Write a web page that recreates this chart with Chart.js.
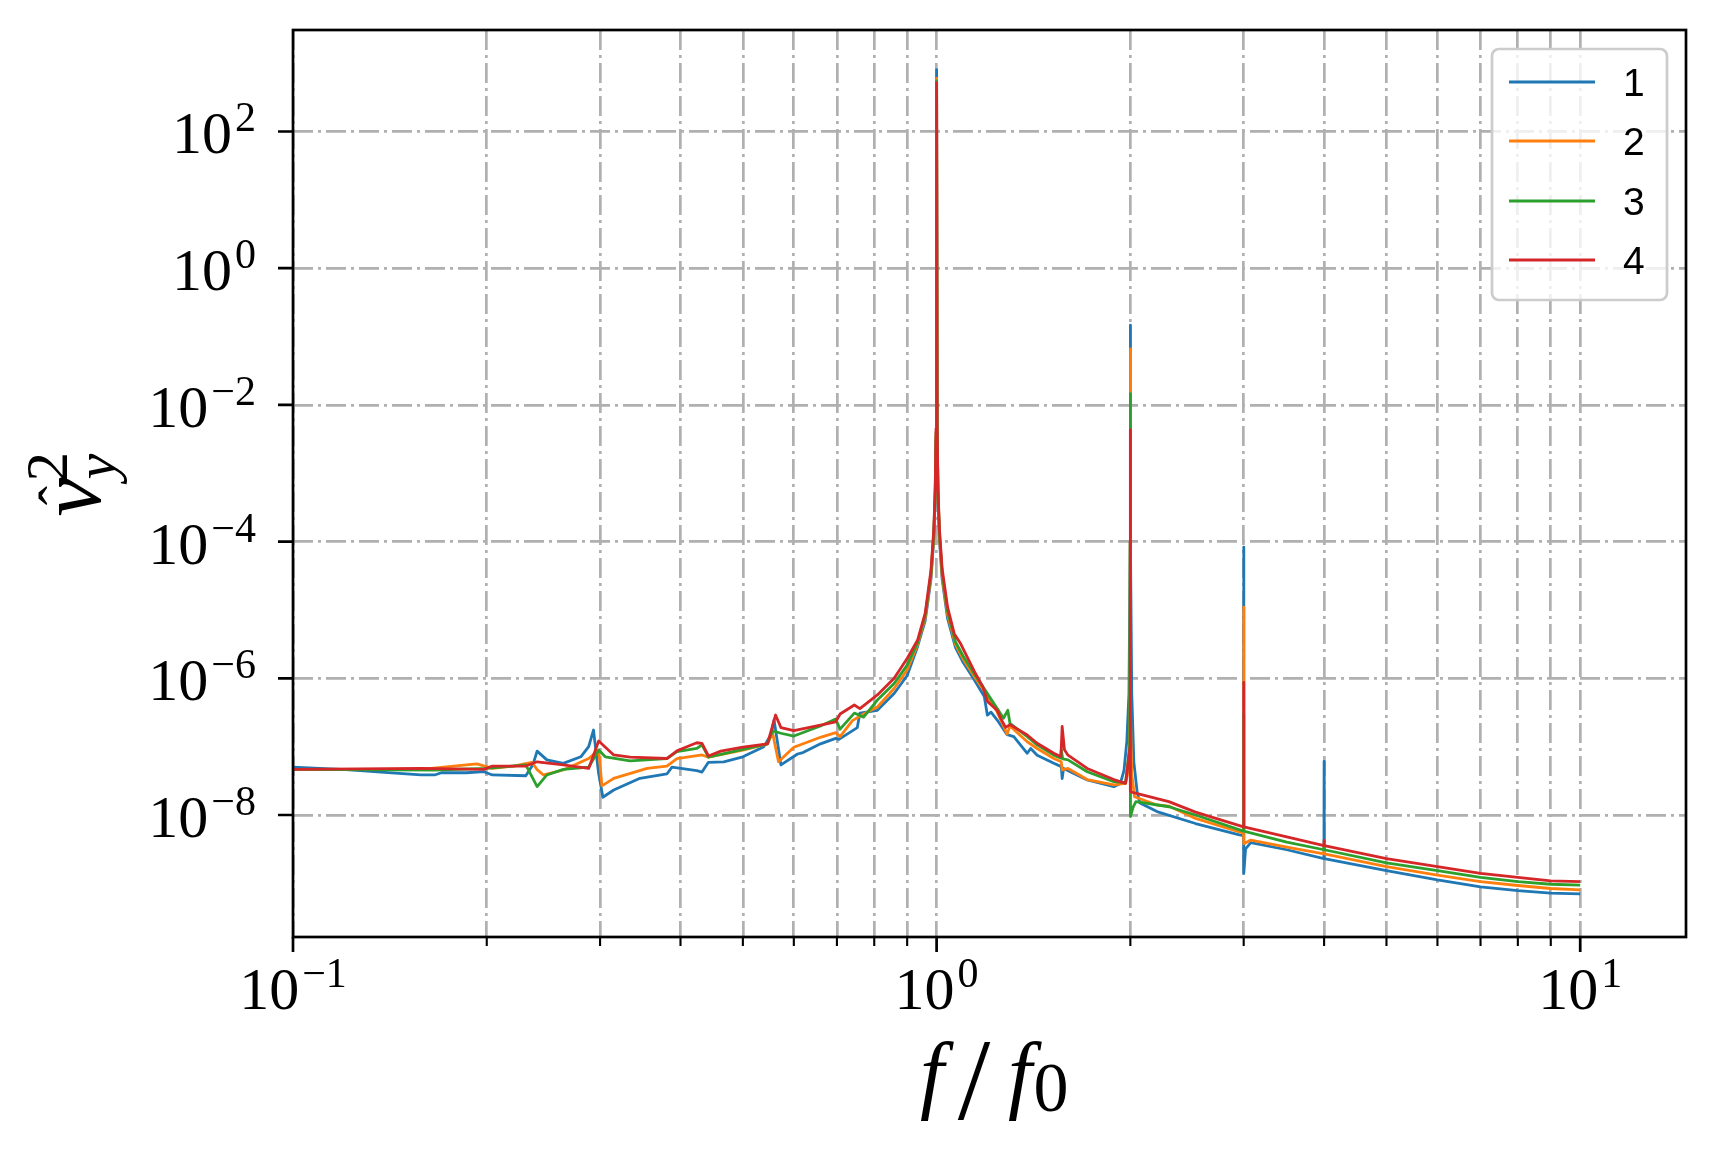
<!DOCTYPE html>
<html>
<head>
<meta charset="utf-8">
<script src="https://cdn.jsdelivr.net/npm/chart.js@4.4.0/dist/chart.umd.min.js"></script>
<style>
  html, body { margin: 0; padding: 0; background: #fff; }
  canvas { display: block; }
</style>
</head>
<body>
<canvas id="spectrum" width="1716" height="1152"></canvas>
<script>
// f/f0 and squared amplitude for each run
const freq1 = [0.1, 0.121, 0.137, 0.158, 0.166, 0.17, 0.186, 0.198, 0.204, 0.23, 0.236, 0.2395, 0.248, 0.263, 0.28, 0.288, 0.293, 0.2985, 0.303, 0.315, 0.346, 0.381, 0.388, 0.424, 0.432, 0.442, 0.467, 0.5, 0.539, 0.553, 0.559, 0.573, 0.608, 0.62, 0.66, 0.697, 0.705, 0.753, 0.76, 0.809, 0.859, 0.9, 0.934, 0.96, 0.98, 0.99, 0.995, 0.998, 1.0, 1.002, 1.005, 1.01, 1.02, 1.04, 1.07, 1.1, 1.143, 1.186, 1.199, 1.215, 1.242, 1.287, 1.318, 1.383, 1.4, 1.433, 1.521, 1.562, 1.567, 1.575, 1.714, 1.885, 1.93, 1.955, 1.975, 1.99, 1.999, 2.0, 2.001, 2.01, 2.025, 2.05, 2.07, 2.2, 2.525, 2.954, 2.998, 3.0, 3.002, 3.02, 3.077, 3.5, 3.998, 4.0, 4.002, 5, 6, 7, 8, 9, 10];
const amp1 = [5.0e-8, 4.6e-8, 4.25e-8, 3.85e-8, 3.85e-8, 4.15e-8, 4.15e-8, 4.3e-8, 3.85e-8, 3.75e-8, 5.5e-8, 8.6e-8, 6.4e-8, 5.7e-8, 7.1e-8, 1.0e-7, 1.75e-7, 4.0e-8, 1.82e-8, 2.32e-8, 3.44e-8, 3.98e-8, 5.0e-8, 4.45e-8, 4.25e-8, 5.9e-8, 6.0e-8, 7.1e-8, 1.0e-7, 1.5e-7, 2.45e-7, 5.4e-8, 7.8e-8, 8.2e-8, 1.1e-7, 1.32e-7, 1.28e-7, 1.9e-7, 3.1e-7, 3.4e-7, 6.0e-7, 1.1e-6, 2.9e-6, 7.0e-6, 2.8e-5, 1.1e-4, 4.5e-4, 3.0e-3, 800, 3.0e-3, 4.5e-4, 1.1e-4, 2.8e-5, 7.5e-6, 2.8e-6, 1.7e-6, 9.7e-7, 5.4e-7, 2.9e-7, 3.2e-7, 2.45e-7, 1.5e-7, 1.4e-7, 8.0e-8, 9.4e-8, 7.5e-8, 5.7e-8, 5.1e-8, 3.4e-8, 4.8e-8, 3.25e-8, 2.6e-8, 2.9e-8, 4.5e-8, 1.2e-7, 6.0e-7, 1.0e-4, 0.147, 1.0e-4, 6.0e-7, 6.0e-8, 2.1e-8, 1.5e-8, 1.12e-8, 7.5e-9, 5.1e-9, 5.0e-9, 8.3e-5, 1.4e-9, 3.2e-9, 3.94e-9, 3.1e-9, 2.3e-9, 6.1e-8, 2.3e-9, 1.53e-9, 1.12e-9, 8.9e-10, 7.8e-10, 7.2e-10, 7.0e-10];

const freq2 = [0.1, 0.158, 0.186, 0.193, 0.204, 0.22, 0.235, 0.2395, 0.245, 0.263, 0.288, 0.2985, 0.302, 0.315, 0.355, 0.381, 0.395, 0.432, 0.442, 0.5, 0.546, 0.556, 0.568, 0.6, 0.66, 0.697, 0.708, 0.74, 0.77, 0.809, 0.859, 0.9, 0.934, 0.96, 0.98, 0.99, 0.995, 0.998, 1.0, 1.002, 1.005, 1.01, 1.02, 1.04, 1.07, 1.1, 1.143, 1.186, 1.242, 1.287, 1.3, 1.383, 1.433, 1.521, 1.562, 1.567, 1.6, 1.714, 1.885, 1.966, 1.99, 1.997, 1.999, 2.0, 2.001, 2.003, 2.01, 2.03, 2.2, 2.295, 2.525, 2.998, 3.0, 3.002, 3.077, 3.5, 3.998, 4.0, 4.002, 5, 6, 7, 8, 9, 10];
const amp2 = [4.65e-8, 4.65e-8, 5.4e-8, 5.6e-8, 4.8e-8, 5.2e-8, 5.9e-8, 4.6e-8, 3.85e-8, 4.55e-8, 6.7e-8, 8.9e-8, 2.66e-8, 3.44e-8, 4.8e-8, 5.2e-8, 6.7e-8, 7.55e-8, 7.0e-8, 8.9e-8, 1.1e-7, 1.6e-7, 6.0e-8, 9.8e-8, 1.37e-7, 1.6e-7, 1.4e-7, 2.4e-7, 3.0e-7, 3.8e-7, 7.1e-7, 1.32e-6, 3.1e-6, 7.7e-6, 3.1e-5, 1.2e-4, 5.0e-4, 3.5e-3, 600, 3.5e-3, 5.0e-4, 1.25e-4, 3.1e-5, 8.5e-6, 3.1e-6, 1.9e-6, 1.08e-6, 6.5e-7, 3.2e-7, 1.53e-7, 2.0e-7, 1.18e-7, 9.4e-8, 6.7e-8, 6.0e-8, 4.55e-8, 4.8e-8, 3.3e-8, 2.75e-8, 2.9e-8, 5.0e-8, 3.0e-7, 1.0e-4, 0.066, 1.0e-4, 3.0e-7, 4.0e-8, 1.85e-8, 1.4e-8, 1.35e-8, 8.9e-9, 5.4e-9, 1.1e-5, 3.8e-9, 4.3e-9, 3.4e-9, 2.7e-9, 3.6e-9, 2.7e-9, 1.75e-9, 1.32e-9, 1.06e-9, 9.3e-10, 8.4e-10, 8.0e-10];

const freq3 = [0.1, 0.166, 0.2, 0.23, 0.2395, 0.248, 0.263, 0.288, 0.2985, 0.3056, 0.334, 0.381, 0.395, 0.424, 0.432, 0.442, 0.5, 0.546, 0.556, 0.573, 0.6, 0.66, 0.697, 0.708, 0.745, 0.77, 0.809, 0.859, 0.9, 0.934, 0.96, 0.98, 0.99, 0.995, 0.998, 1.0, 1.002, 1.005, 1.01, 1.02, 1.04, 1.07, 1.1, 1.143, 1.186, 1.242, 1.27, 1.29, 1.3, 1.383, 1.433, 1.521, 1.558, 1.562, 1.57, 1.6, 1.714, 1.885, 1.966, 1.995, 1.999, 2.0, 2.001, 2.02, 2.04, 2.295, 2.525, 2.998, 3.0, 3.002, 3.5, 3.998, 4.0, 4.002, 5, 6, 7, 8, 9, 10];
const amp3 = [4.65e-8, 4.55e-8, 4.8e-8, 5.4e-8, 2.6e-8, 3.85e-8, 4.65e-8, 5.0e-8, 8.9e-8, 7.1e-8, 6.2e-8, 6.7e-8, 8.45e-8, 9.4e-8, 1.06e-7, 7.0e-8, 9.1e-8, 1.1e-7, 1.7e-7, 1.57e-7, 1.43e-7, 2.0e-7, 2.54e-7, 1.8e-7, 3.1e-7, 2.7e-7, 4.8e-7, 8.4e-7, 1.56e-6, 3.3e-6, 8.3e-6, 3.4e-5, 1.35e-4, 5.5e-4, 4.0e-3, 550, 4.0e-3, 5.5e-4, 1.4e-4, 3.5e-5, 9.5e-6, 3.4e-6, 2.1e-6, 1.18e-6, 7.0e-7, 3.6e-7, 2.6e-7, 3.4e-7, 2.2e-7, 1.4e-7, 1.06e-7, 7.5e-8, 6.8e-8, 9.0e-8, 6.6e-8, 6.4e-8, 4.3e-8, 3.07e-8, 2.97e-8, 1.0e-7, 1.0e-4, 0.0146, 9.5e-9, 1.3e-8, 1.57e-8, 1.32e-8, 1.0e-8, 5.8e-9, 3.0e-7, 5.8e-9, 4.0e-9, 3.1e-9, 3.5e-9, 3.1e-9, 2.0e-9, 1.53e-9, 1.22e-9, 1.06e-9, 9.7e-10, 9.4e-10];

const freq4 = [0.1, 0.158, 0.198, 0.204, 0.23, 0.2395, 0.263, 0.288, 0.2985, 0.315, 0.334, 0.381, 0.395, 0.424, 0.432, 0.442, 0.462, 0.5, 0.546, 0.562, 0.573, 0.6, 0.66, 0.697, 0.708, 0.745, 0.76, 0.809, 0.859, 0.9, 0.934, 0.96, 0.98, 0.99, 0.995, 0.998, 1.0, 1.002, 1.005, 1.01, 1.02, 1.04, 1.065, 1.09, 1.143, 1.18, 1.2, 1.242, 1.26, 1.28, 1.3, 1.383, 1.433, 1.521, 1.56, 1.567, 1.58, 1.6, 1.714, 1.885, 1.966, 1.998, 1.999, 2.0, 2.001, 2.03, 2.295, 2.525, 2.998, 3.0, 3.002, 3.5, 3.998, 4.0, 4.002, 5, 6, 7, 8, 9, 10];
const amp4 = [4.65e-8, 4.8e-8, 4.65e-8, 5.2e-8, 5.2e-8, 6.0e-8, 5.4e-8, 4.8e-8, 1.21e-7, 7.55e-8, 7.0e-8, 6.7e-8, 8.7e-8, 1.14e-7, 1.12e-7, 7.3e-8, 8.6e-8, 9.8e-8, 1.1e-7, 2.9e-7, 1.9e-7, 1.71e-7, 2.07e-7, 2.3e-7, 3.0e-7, 4.07e-7, 3.6e-7, 5.7e-7, 1.0e-6, 1.95e-6, 3.6e-6, 9.0e-6, 3.8e-5, 1.5e-4, 6.0e-4, 4.5e-3, 520, 4.5e-3, 6.0e-4, 1.55e-4, 4.0e-5, 1.1e-5, 4.5e-6, 3.2e-6, 1.29e-6, 7.5e-7, 4.55e-7, 3.4e-7, 2.5e-7, 1.91e-7, 2.1e-7, 1.48e-7, 1.12e-7, 8.0e-8, 7.1e-8, 1.98e-7, 9.0e-8, 7.5e-8, 4.8e-8, 3.3e-8, 2.9e-8, 1.0e-7, 1.0e-4, 0.0043, 2.2e-8, 2.1e-8, 1.57e-8, 1.1e-8, 6.7e-9, 8.7e-7, 6.7e-9, 4.8e-9, 3.56e-9, 4.2e-9, 3.56e-9, 2.3e-9, 1.75e-9, 1.4e-9, 1.22e-9, 1.09e-9, 1.06e-9];

const runLabels = ['1', '2', '3', '4'];
const runColors = ['#1f77b4', '#ff7f0e', '#2ca02c', '#d62728'];

// grid / ticks
const xGrid = [0.1, 0.2, 0.3, 0.4, 0.5, 0.6, 0.7, 0.8, 0.9, 1, 2, 3, 4, 5, 6, 7, 8, 9, 10];
const xMajor = [0.1, 1, 10];
const xTickExp = ['\u22121', '0', '1'];
const yMajor = [1e-8, 1e-6, 1e-4, 1e-2, 1, 1e2];
const yTickExp = ['\u22128', '\u22126', '\u22124', '\u22122', '0', '2'];

const SERIF = '"Liberation Serif", "DejaVu Serif", serif';

const pairs = (xs, ys) => xs.map((x, i) => ({ x: x, y: ys[i] }));
const series = [[freq1, amp1], [freq2, amp2], [freq3, amp3], [freq4, amp4]];

function drawPower(ctx, exp, x, y, anchor) {
  ctx.font = '60px ' + SERIF;
  const wb = ctx.measureText('10').width;
  ctx.font = '42px ' + SERIF;
  const ws = ctx.measureText(exp).width;
  const w = wb + 3 + ws;
  const left = anchor === 'right' ? x - w : x - w / 2;
  ctx.textAlign = 'left';
  ctx.textBaseline = 'alphabetic';
  ctx.font = '60px ' + SERIF;
  ctx.fillText('10', left, y);
  ctx.font = '42px ' + SERIF;
  ctx.fillText(exp, left + wb + 3, y - 22);
}

const framePlugin = {
  id: 'frame',
  afterDatasetsDraw(chart) {
    const { ctx, chartArea: a, scales } = chart;
    const x = scales.x, y = scales.y;
    ctx.save();
    ctx.strokeStyle = '#000';
    ctx.fillStyle = '#000';

    // ticks
    ctx.lineWidth = 2.7;
    ctx.beginPath();
    xMajor.forEach(v => {
      const px = x.getPixelForValue(v);
      ctx.moveTo(px, a.bottom); ctx.lineTo(px, a.bottom + 15);
    });
    yMajor.forEach(v => {
      const py = y.getPixelForValue(v);
      ctx.moveTo(a.left, py); ctx.lineTo(a.left - 15, py);
    });
    ctx.stroke();
    ctx.lineWidth = 2.1;
    ctx.beginPath();
    xGrid.filter(v => !xMajor.includes(v)).forEach(v => {
      const px = x.getPixelForValue(v);
      ctx.moveTo(px, a.bottom); ctx.lineTo(px, a.bottom + 9);
    });
    ctx.stroke();

    // spines
    ctx.lineWidth = 2.7;
    ctx.strokeRect(a.left, a.top, a.right - a.left, a.bottom - a.top);

    // tick labels
    xMajor.forEach((v, i) => drawPower(ctx, xTickExp[i], x.getPixelForValue(v), a.bottom + 72, 'center'));
    yMajor.forEach((v, i) => drawPower(ctx, yTickExp[i], 256, y.getPixelForValue(v) + 22, 'right'));

    // x title: f / f0
    ctx.textAlign = 'center';
    ctx.textBaseline = 'alphabetic';
    ctx.font = 'italic 86px ' + SERIF;
    ctx.fillText('f', 932, 1102);
    ctx.font = '117px ' + SERIF;
    ctx.fillText('/', 974, 1119);
    ctx.font = 'italic 86px ' + SERIF;
    ctx.fillText('f', 1020, 1102);
    ctx.font = '70px ' + SERIF;
    ctx.fillText('0', 1051, 1111);

    // y title: v-hat with subscript y and superscript 2, rotated
    const cy = (a.top + a.bottom) / 2;
    ctx.translate(100, 0);
    ctx.rotate(-Math.PI / 2);
    ctx.textAlign = 'left';
    ctx.font = 'italic 88px ' + SERIF;
    ctx.fillText('v', -(cy + 33), 0);
    ctx.textAlign = 'center';
    ctx.font = '58px ' + SERIF;
    ctx.fillText('\u02C6', -(cy + 12), -22);
    ctx.textAlign = 'left';
    ctx.font = 'italic 58px ' + SERIF;
    ctx.fillText('y', -(cy - 4), 15);
    ctx.font = '59px ' + SERIF;
    ctx.fillText('2', -(cy - 2), -33);
    ctx.restore();
  },
  afterDraw(chart) {
    const ctx = chart.ctx;
    const bx = 1492, by = 49, bw = 175, bh = 251, r = 7;
    ctx.save();
    ctx.beginPath();
    ctx.roundRect(bx, by, bw, bh, r);
    ctx.fillStyle = 'rgba(255,255,255,0.8)';
    ctx.fill();
    ctx.strokeStyle = '#cccccc';
    ctx.lineWidth = 2.7;
    ctx.stroke();
    const rows = [82, 141, 201, 260];
    runLabels.forEach((lab, i) => {
      ctx.strokeStyle = runColors[i];
      ctx.lineWidth = 2.8;
      ctx.beginPath();
      ctx.moveTo(1509, rows[i]);
      ctx.lineTo(1595, rows[i]);
      ctx.stroke();
      ctx.fillStyle = '#000';
      ctx.font = '39px "Liberation Sans", Arial, sans-serif';
      ctx.textAlign = 'left';
      ctx.textBaseline = 'alphabetic';
      ctx.fillText(lab, 1623, rows[i] + 14);
    });
    ctx.restore();
  }
};

const gridOpts = { color: '#b0b0b0', lineWidth: 2.7, drawTicks: false };
const borderOpts = { display: false, dash: [20, 5, 3, 5] };

new Chart(document.getElementById('spectrum'), {
  type: 'line',
  data: {
    datasets: series.map((s, i) => ({
      label: runLabels[i],
      data: pairs(s[0], s[1]),
      borderColor: runColors[i],
      backgroundColor: runColors[i],
      borderWidth: 2.8,
      pointRadius: 0,
      tension: 0,
      fill: false,
      borderJoinStyle: 'round',
      order: 3 - i
    }))
  },
  options: {
    responsive: false,
    devicePixelRatio: 1,
    animation: false,
    events: [],
    layout: { padding: { left: 0, right: 30, top: 30, bottom: 0 } },
    plugins: { legend: { display: false }, tooltip: { enabled: false } },
    scales: {
      x: {
        type: 'logarithmic',
        bounds: 'data',
        min: 0.1,
        max: 14.6,
        ticks: { display: false },
        grid: gridOpts,
        border: borderOpts,
        afterBuildTicks: s => { s.ticks = xGrid.map(v => ({ value: v })); },
        afterFit: s => { s.height = 215; }
      },
      y: {
        type: 'logarithmic',
        bounds: 'data',
        min: 1.64e-10,
        max: 3054,
        ticks: { display: false },
        grid: gridOpts,
        border: borderOpts,
        afterBuildTicks: s => { s.ticks = yMajor.map(v => ({ value: v })); },
        afterFit: s => { s.width = 293; }
      }
    }
  },
  plugins: [framePlugin]
});
</script>
</body>
</html>
